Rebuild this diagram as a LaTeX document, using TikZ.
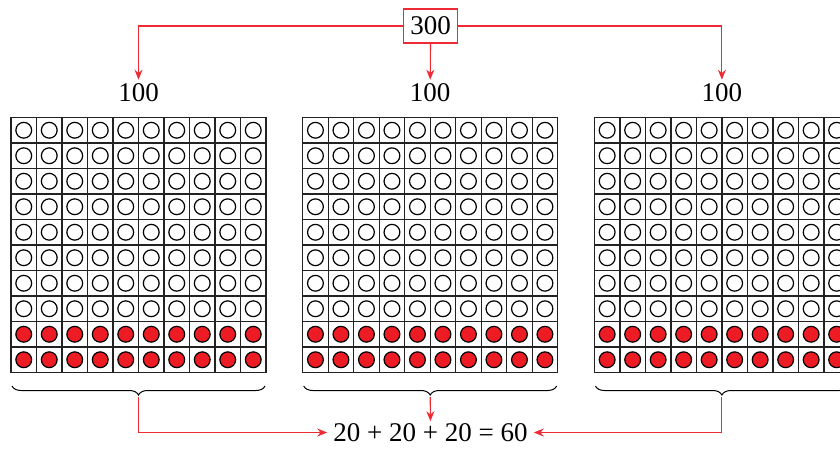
\documentclass[tikz,border=0pt]{standalone}
\usepackage{fontspec}
\setmainfont{Liberation Serif}
\usetikzlibrary{arrows.meta,decorations.pathreplacing}
\definecolor{dotred}{HTML}{ED1C24}
\definecolor{linkred}{HTML}{EE2A35}
\definecolor{gridline}{HTML}{222222}
\tikzset{
  numtext/.style={font=\fontsize{27}{30}\selectfont, inner sep=0pt},
  totalbox/.style={numtext, draw=linkred, line width=1.3pt, minimum width=54pt, minimum height=34pt},
  link/.style={draw=linkred, line width=1.1pt, -{Stealth[length=10pt,width=8pt]}},
  cellline/.style={draw=gridline, line width=1.2pt},
  emptydot/.style={draw=black, line width=1.2pt, fill=white},
  fulldot/.style={draw=black, line width=1.2pt, fill=dotred},
  bracket/.style={draw=black, line width=1pt, decorate,
    decoration={brace, mirror, amplitude=9pt, aspect=0.5}}
}
\begin{document}
\begin{tikzpicture}[x=1pt,y=-1pt]
  \useasboundingbox (0,0) rectangle (840,448);
  \clip (0,0) rectangle (840,448);
  \def\cw{25.5}
  \def\gy{117.5}
  % three hundred-grids
  \foreach \gx/\k in {11/1,302.7/2,594.4/3} {
    \foreach \i in {0,...,9} {
      \foreach \j in {0,...,9} {
        \path[cellline] ({\gx+\i*\cw},{\gy+\j*\cw}) rectangle ++(\cw,\cw);
        \ifnum\j>7
          \path[fulldot] ({\gx+(\i+0.5)*\cw},{\gy+(\j+0.5)*\cw}) circle (7.9);
        \else
          \path[emptydot] ({\gx+(\i+0.5)*\cw},{\gy+(\j+0.5)*\cw}) circle (7.9);
        \fi
      }
    }
    \draw[cellline] (\gx,\gy) rectangle ++({10*\cw},{10*\cw});
    \draw[bracket] ({\gx+1},386) -- ({\gx+10*\cw-1},386);
    \coordinate (b\k) at ({\gx+5*\cw},397);
    \node[numtext] (h\k) at ({\gx+5*\cw},93) {100};
  }
  % total and its split
  \node[totalbox] (total) at (430.5,26) {300};
  \draw[link, shorten >=4pt] (total.west) -| (h1.north);
  \draw[link, shorten >=4pt] (total.south) -- (h2.north);
  \draw[link, shorten >=4pt] (total.east) -| (h3.north);
  % sum of the red rows
  \node[numtext] (sum) at (430.5,432.5) {20 + 20 + 20 = 60};
  \draw[link, shorten >=6pt] (b1) |- (sum.west);
  \draw[link, shorten >=2pt] (b2) -- (sum.north);
  \draw[link, shorten >=6pt] (b3) |- (sum.east);
\end{tikzpicture}
\end{document}
